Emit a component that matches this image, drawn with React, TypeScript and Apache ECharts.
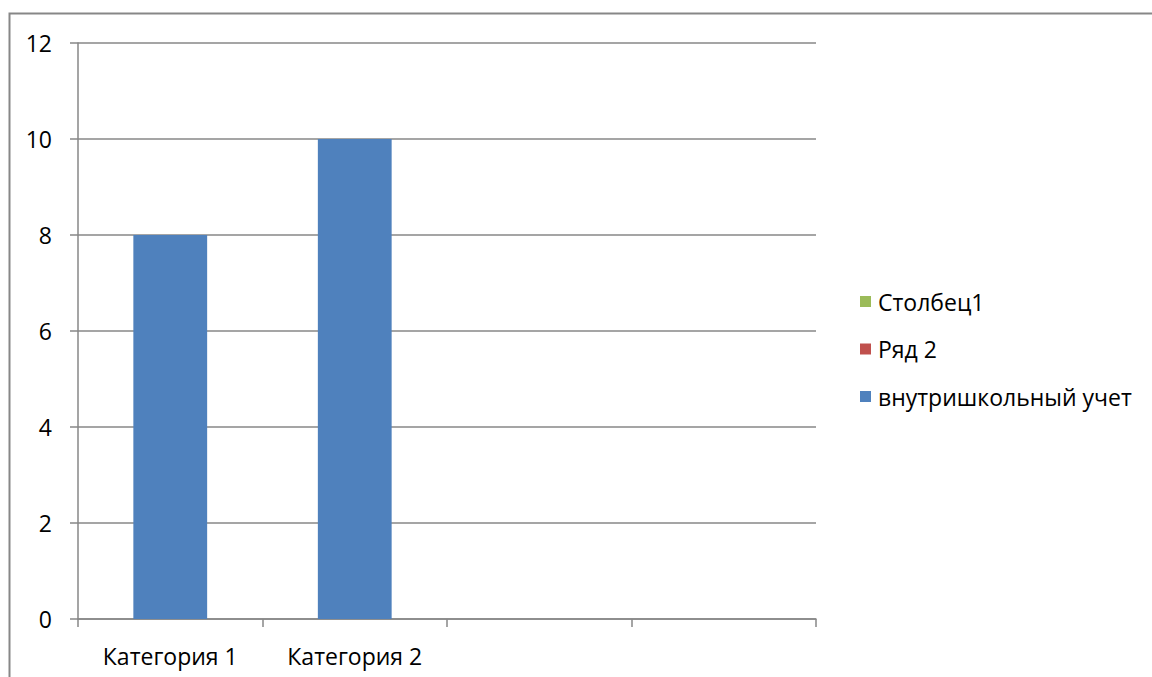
import React, { useEffect, useRef } from "react";
import * as echarts from "echarts";

const categories = ["Категория 1", "Категория 2", "", ""];
const seriesNames = ["Столбец1", "Ряд 2", "внутришкольный учет"];
const stolbec1: (number | null)[] = [null, null, null, null];
const ryad2: (number | null)[] = [null, null, null, null];
const vnutrishkolnyi: (number | null)[] = [8, 10, null, null];
const seriesColors = ["#9BBB59", "#C0504D", "#4F81BD"];
const yMin = 0;
const yMax = 12;
const yStep = 2;

const FONT = "Open Sans";
const FS = 23;

export default function App() {
  const ref = useRef<HTMLDivElement>(null);
  useEffect(() => {
    if (!ref.current) return;
    const chart = echarts.init(ref.current, undefined, { renderer: "svg" });
    const datasets = [stolbec1, ryad2, vnutrishkolnyi];
    chart.setOption({
      animation: false,
      backgroundColor: "#ffffff",
      textStyle: { fontFamily: FONT },
      graphic: [
        {
          type: "rect",
          shape: { x: 9.5, y: 13.5, width: 1300, height: 800 },
          style: { fill: "none", stroke: "#878787", lineWidth: 2 },
          silent: true,
        },
      ],
      legend: {
        orient: "vertical",
        left: 855,
        top: 285,
        itemWidth: 11,
        itemHeight: 11,
        itemGap: 24.5,
        icon: "rect",
        data: seriesNames,
        textStyle: { fontFamily: FONT, fontSize: FS, color: "#000", lineHeight: 23, padding: [0, 0, 0, 2] },
      },
      grid: { left: 78, top: 43, width: 738, height: 576, outerBoundsMode: "none", containLabel: false },
      xAxis: {
        type: "category",
        data: categories,
        boundaryGap: true,
        axisLine: { show: true, lineStyle: { color: "#878787", width: 1.5 } },
        axisTick: { show: true, length: 8, lineStyle: { color: "#878787", width: 1.5 } },
        axisLabel: { color: "#000", fontFamily: FONT, fontSize: FS, margin: 25, interval: 0 },
      },
      yAxis: {
        type: "value",
        min: yMin,
        max: yMax,
        interval: yStep,
        axisLine: { show: true, lineStyle: { color: "#878787", width: 1.5 } },
        axisTick: { show: true, length: 8, lineStyle: { color: "#878787", width: 1.5 } },
        splitLine: { show: true, lineStyle: { color: "#878787", width: 1.5 } },
        axisLabel: { color: "#000", fontFamily: FONT, fontSize: FS, margin: 26 },
      },
      series: seriesNames.map((name, i) => ({
        name,
        type: "bar",
        data: datasets[i],
        barWidth: "40%",
        barGap: "-100%",
        itemStyle: { color: seriesColors[i] },
      })),
    });
    return () => chart.dispose();
  }, []);
  return (
    <div
      ref={ref}
      style={{ position: "absolute", left: 0, top: 0, width: 1152, height: 677 }}
    />
  );
}
